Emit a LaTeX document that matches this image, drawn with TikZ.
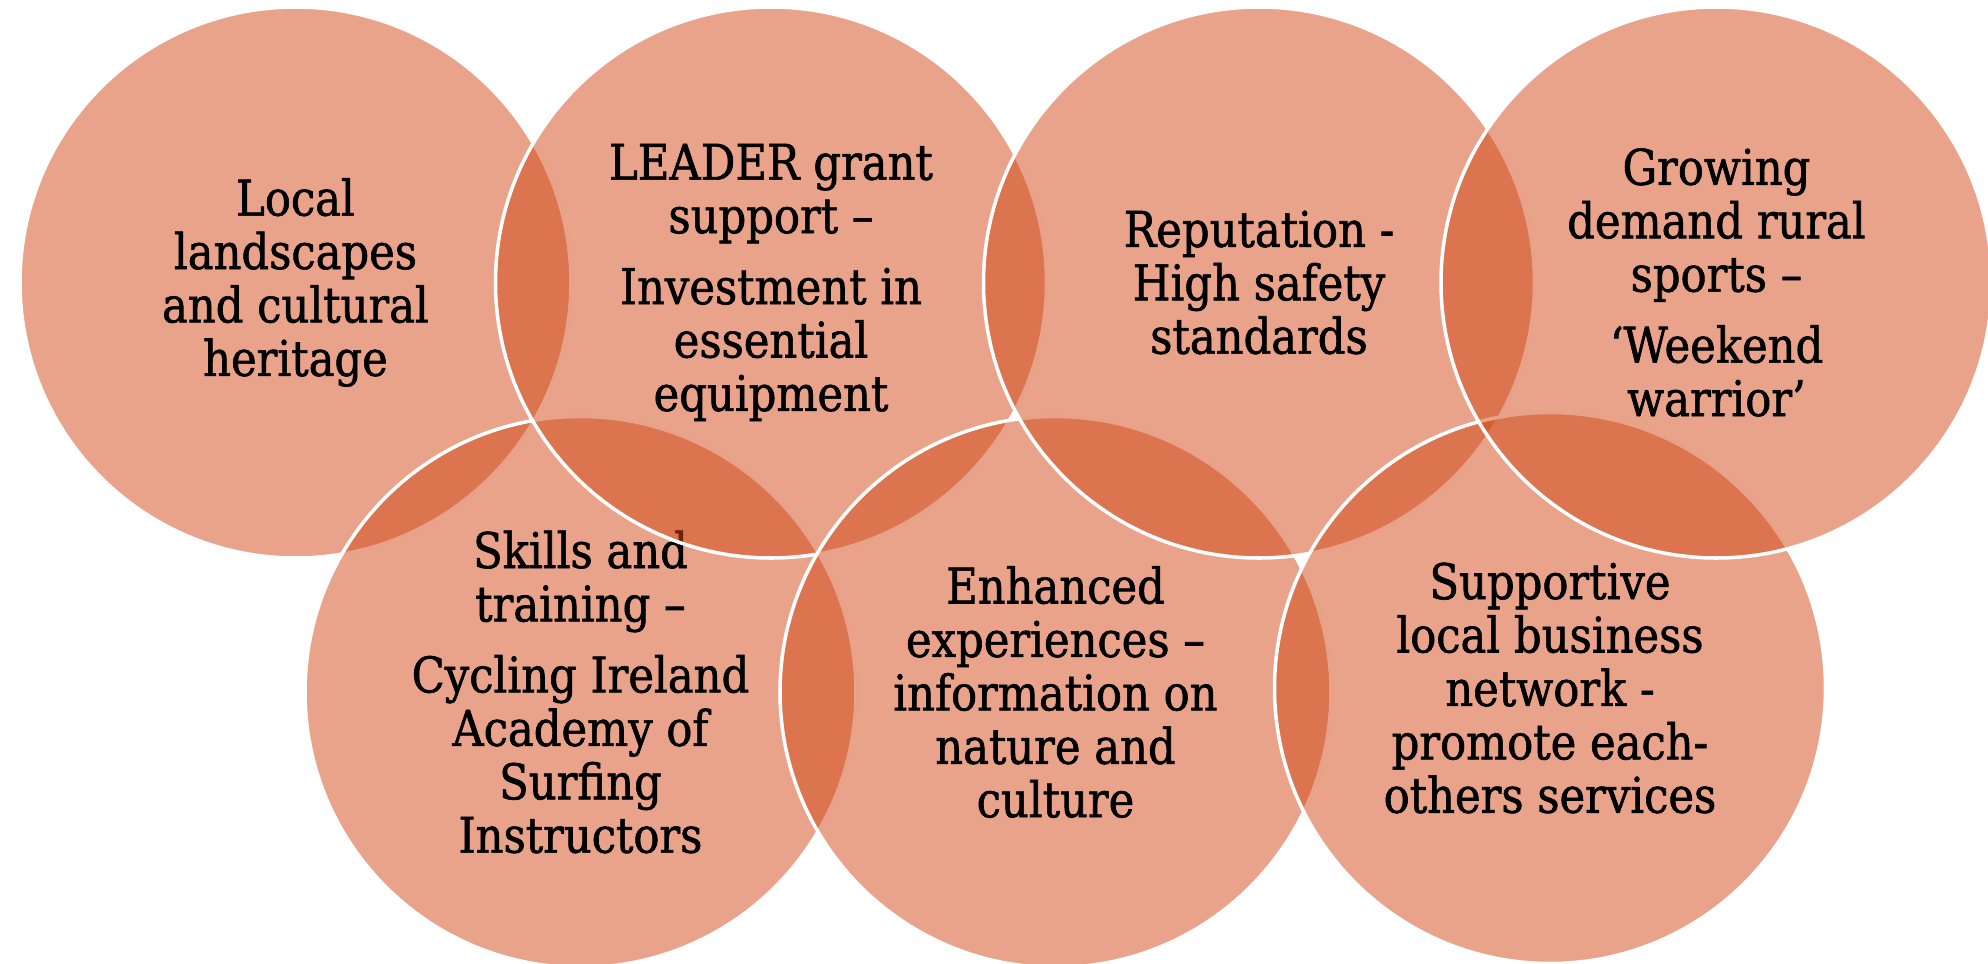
\documentclass[tikz,border=0pt]{standalone}
\usepackage{fontspec}
\setmainfont[FakeStretch=0.88,FakeBold=1.2]{DejaVu Serif}
\usepackage{tikz}
\definecolor{vennred}{RGB}{209,71,21}

\begin{document}
\begin{tikzpicture}[
	venn/.style={circle, draw=white, line width=1pt, fill=vennred, fill opacity=0.5, text opacity=1,
		minimum size=5.51cm, inner sep=0pt, align=center, font=\fontsize{14}{15.2}\selectfont}
	]
	\useasboundingbox (0,0) rectangle (19.88,-9.64);
	% drawn back to front
	\node[venn] (landscape) at (2.955,-2.825) {Local\\ landscapes\\ and cultural\\ heritage};
	\node[venn] (skills) at (5.805,-6.92) {Skills and\\ training --\\[5pt] Cycling Ireland\\ Academy of\\ Surfing\\ Instructors};
	\node[venn] (leader) at (7.71,-2.825) {LEADER grant\\ support --\\[5pt] Investment in\\ essential\\ equipment};
	\node[venn] (experience) at (10.555,-6.92) {Enhanced\\ experiences --\\ information on\\ nature and\\ culture};
	\node[venn] (reputation) at (12.59,-2.825) {Reputation -\\ High safety\\ standards};
	\node[venn] (network) at (15.5,-6.88) {Supportive\\ local business\\ network -\\ promote each-\\ others services};
	\node[venn] (demand) at (17.165,-2.825) {Growing\\ demand rural\\ sports --\\[5pt] ‘Weekend\\ warrior’};
\end{tikzpicture}
\end{document}
